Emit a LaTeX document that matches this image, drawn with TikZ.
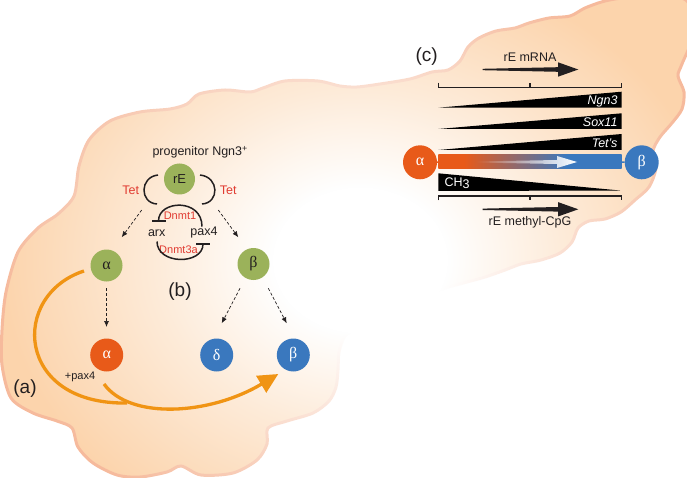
\documentclass[tikz,border=0pt]{standalone}
\usepackage{fontspec}
\setmainfont{Liberation Sans}
\newfontfamily\grk{Liberation Serif}
\usetikzlibrary{arrows.meta,fadings,calc}
\definecolor{peach}{RGB}{252,212,172}
\definecolor{peachedge}{RGB}{246,186,156}
\definecolor{cGreen}{RGB}{155,178,90}
\definecolor{cOr}{RGB}{232,90,25}
\definecolor{cBl}{RGB}{58,120,190}
\definecolor{cArr}{RGB}{240,148,20}
\definecolor{cRed}{RGB}{225,60,50}
\definecolor{txt}{RGB}{35,31,32}
\pgfdeclareradialshading{glowsh}{\pgfpointorigin}{color(0bp)=(white); color(6bp)=(white); color(14bp)=(white!55!black); color(25bp)=(black); color(50bp)=(black)}
\pgfdeclarefading{glow}{\pgfuseshading{glowsh}}
\pgfdeclarehorizontalshading{barsh}{100bp}{color(0bp)=(cOr); color(32bp)=(cOr); color(60bp)=(cBl); color(100bp)=(cBl)}
\tikzfading[name=fadeR, left color=transparent!100, right color=transparent!0]
\tikzset{
  cellc/.style={circle, minimum size=32pt, inner sep=0pt, font=\grk\fontsize{16}{16}\selectfont},
  gcell/.style={cellc, fill=cGreen, text=txt},
  ocell/.style={cellc, fill=cOr, text=white},
  bcell/.style={cellc, fill=cBl, text=white},
  dasharr/.style={densely dashed, line width=0.7pt, draw=txt, -{Latex[length=6pt,width=5pt]}},
  inhib/.style={line width=1.5pt, draw=txt, -{Bar[width=14pt,line width=1.5pt]}},
  arcline/.style={line width=1.5pt, draw=txt},
  redlbl/.style={text=cRed},
  smallred/.style={text=cRed, font=\fontsize{11}{12}\selectfont},
  plabel/.style={font=\fontsize{19}{20}\selectfont},
  wedgelbl/.style={text=white, font=\fontsize{12.5}{14}\selectfont\itshape, anchor=east},
  orarrow/.style={draw=cArr, line width=3.3pt},
  ruler/.style={line width=1.3pt, draw=txt},
}
\begin{document}
\begin{tikzpicture}[x=1pt,y=-1pt, font=\fontsize{12.5}{14}\selectfont, every node/.style={text=txt}]
\useasboundingbox (0,0) rectangle (687,478);
% cloud
\path[draw=peachedge, line width=3pt, fill=peach] plot[smooth cycle] coordinates {
(2,330) (6,292) (18,252) (38,228) (58,214) (74,196) (79,166) (89,140) (110,121) (140,112) (170,109) (187,104) (199,94) (225,90) (250,92) (263,88) (285,81) (318,81) (340,86) (357,87) (380,84) (410,79) (432,72) (448,70) (460,61) (468,47) (479,38) (496,31) (515,28) (529,23) (549,18) (570,16) (585,8) (605,1) (630,-3) (665,-4) (688,2) (693,35) (682,64) (678,76) (684,92) (682,109) (672,123) (660,137) (653,151) (656,168) (649,187) (635,200) (621,212) (605,219) (589,221) (578,228) (572,242) (560,253) (541,260) (521,264) (505,270) (485,277) (463,283) (445,288) (430,294) (415,300) (400,307) (380,317) (360,327) (345,336) (339,352) (338,370) (336,387) (329,401) (313,413) (287,421) (268,428) (267,444) (257,460) (233,473) (201,475) (181,466) (167,472) (140,477) (117,475) (93,463) (78,447) (72,428) (57,421) (33,413) (11,398) (2,365)};
\fill[white, path fading=glow] (360,260) ellipse [x radius=360, y radius=300];

% ---------- panel (b)
\node[cellc, fill=cGreen, minimum size=31pt, font=\fontsize{13}{14}\selectfont] (rE) at (179.5,179) {rE};
\node[anchor=west] (prog) at (149,152) {progenitor Ngn3\textsuperscript{+}};
\node[redlbl] (tetL) at (130.7,190) {Tet};
\node[redlbl] (tetR) at (228.3,190) {Tet};
\node[smallred] (dn1) at (180,215.7) {Dnmt1};
\node (arx) at (156.7,232.7) {arx};
\node (pax) at (204,232.7) {pax4};
\node[smallred] (dn3) at (178.5,250) {Dnmt3a};
\coordinate (bl1) at (158,175); \coordinate (bl2) at (157,204);
\coordinate (br1) at (200,175); \coordinate (br2) at (202,204);
\draw[arcline] (bl1) .. controls (139.5,177) and (139.5,203) .. (bl2);
\draw[arcline] (br1) .. controls (219.5,177) and (219.5,203) .. (br2);
\coordinate (u1) at (202,226.5); \coordinate (u2) at (158.5,222);
\draw[inhib] (u1) .. controls (202,198) and (158.5,200) .. (u2);
\coordinate (l1) at (157,241.5); \coordinate (l2) at (203,243);
\draw[inhib] (l1) .. controls (157,265) and (203,265) .. (l2);
\coordinate (dL0) at (141.7,210); \coordinate (dL1) at (121.7,237.3);
\coordinate (dR0) at (218.3,210); \coordinate (dR1) at (238.3,237.3);
\draw[dasharr] (dL0) -- (dL1);
\draw[dasharr] (dR0) -- (dR1);
\node[gcell] (gA) at (106.5,265.5) {α};
\node[gcell] (gB) at (253.5,264) {β};
\node[plabel] (lb) at (180,291.7) {(b)};

% ---------- panel (a)
\node[ocell, minimum size=33pt] (oA) at (106.7,355) {α};
\node[bcell, minimum size=33pt] (dD) at (216.7,355) {δ};
\node[bcell, minimum size=33pt] (bB) at (293.3,355) {β};
\coordinate (a0) at (106.5,288); \coordinate (a1) at (106.5,327);
\draw[dasharr] (a0) -- (a1);
\coordinate (d0) at (240,288.3); \coordinate (d1) at (221.7,323.3);
\coordinate (e0) at (268.3,288.3); \coordinate (e1) at (286.7,323.3);
\draw[dasharr] (d0) -- (d1);
\draw[dasharr] (e0) -- (e1);
\node[font=\fontsize{11}{12}\selectfont] (px) at (80,376.7) {+pax4};
\node[plabel] (la) at (25,388.3) {(a)};
\coordinate (o1) at (84,271); \coordinate (o2) at (127,403);
\coordinate (o3) at (104,384); \coordinate (o4) at (278.3,374);
\draw[orarrow] (o1) .. controls (10,295) and (15,405) .. (o2);
\draw[orarrow, -{Triangle[length=20pt,width=19pt]}] (o3) .. controls (130,420) and (210,415) .. (o4);

% ---------- panel (c)
\node[plabel] (lc) at (426.7,56.7) {(c)};
\node (mrna) at (530,57.3) {rE mRNA};
\node (meth) at (530,222.7) {rE methyl-CpG};
\fill[txt] (482.7,68.8) -- (558,67.2) -- (558,62.3) -- (578.3,69.5) -- (558,76.7) -- (558,71.8) -- (482.7,70.2) -- cycle;
\fill[txt] (482.7,208.6) -- (558,207) -- (558,202.1) -- (578.3,209.3) -- (558,216.5) -- (558,211.6) -- (482.7,210) -- cycle;
\draw[ruler] (438.3,82.7) -- (438.3,87.3) -- (621.7,87.3) -- (621.7,82.7);
\draw[ruler] (530,87.3) -- (530,83.3);
\draw[ruler] (438.3,200.5) -- (438.3,196) -- (621.7,196) -- (621.7,200.5);
\draw[ruler] (530,196) -- (530,200);
\fill[black] (438.3,107.7) -- (621.7,91.7) -- (621.7,107.7) -- cycle;
\fill[black] (438.3,129) -- (621.7,113.3) -- (621.7,129) -- cycle;
\fill[black] (438.3,150) -- (621.7,134) -- (621.7,150) -- cycle;
\fill[black] (438.3,173.3) -- (620,190.5) -- (438.3,191) -- cycle;
\node[wedgelbl] (ngn) at (621,101.5) {Ngn3};
\node[wedgelbl] (sox) at (621,122) {Sox11};
\node[wedgelbl] (tets) at (621,143.5) {Tet’s};
\node[text=white] (ch) at (457,183.3) {CH\raisebox{-1.5pt}{3}};
\shade[shading=barsh] (438.3,155) rectangle (621.7,169);
\fill[white, path fading=fadeR] (476,161.5) -- (557,160) -- (557,156) -- (577,162) -- (557,168) -- (557,164) -- (476,162.5) -- cycle;
\node[ocell, minimum size=34pt] (cA) at (420,162.3) {α};
\node[bcell, minimum size=34pt] (cB) at (641.7,162.3) {β};
\coordinate (barL) at (438.3,162); \coordinate (barR) at (621.7,162);
\draw[cOr, line width=1.5pt] (cA) -- (barL);
\draw[cBl, line width=1.5pt] (barR) -- (cB);
\end{tikzpicture}
\end{document}
